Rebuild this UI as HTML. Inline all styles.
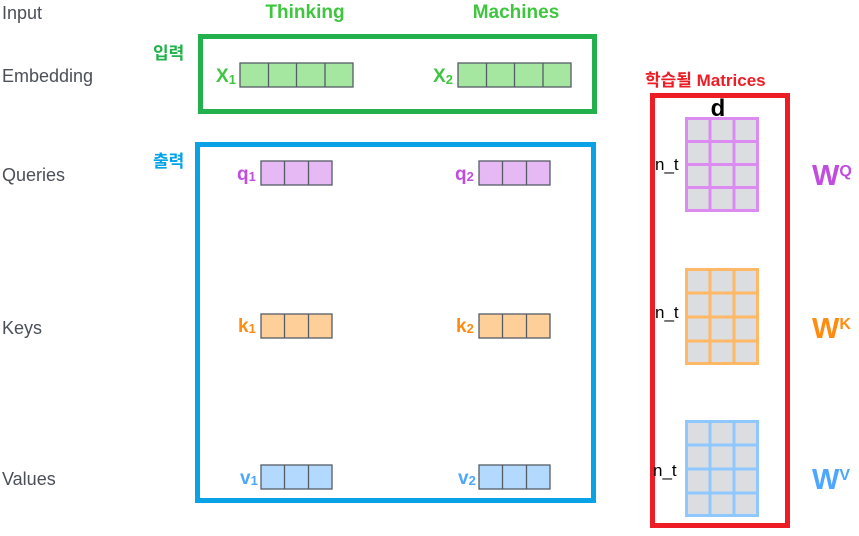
<!DOCTYPE html>
<html><head><meta charset="utf-8"><style>
html,body{margin:0;padding:0;background:#fff;}
svg{display:block;}
text{font-family:"Liberation Sans","Noto Sans CJK KR",sans-serif;}
.lbl{fill:#4a4f58;font-size:18px;}
.b{font-weight:bold;}
</style></head><body>
<svg width="859" height="536" viewBox="0 0 859 536" xmlns="http://www.w3.org/2000/svg">
<!-- left labels -->
<text class="lbl" x="2" y="19">Input</text>
<text class="lbl" x="2" y="82">Embedding</text>
<text class="lbl" x="2" y="181">Queries</text>
<text class="lbl" x="2" y="334">Keys</text>
<text class="lbl" x="2" y="485">Values</text>

<text class="b" x="305" y="18" fill="#3fc63f" font-size="19" text-anchor="middle">Thinking</text>
<text class="b" x="516" y="18" fill="#3fc63f" font-size="19" text-anchor="middle">Machines</text>

<text class="b" x="153" y="59" fill="#22b14c" font-size="17">입력</text>
<text class="b" x="153" y="167" fill="#00a2e8" font-size="17">출력</text>

<rect x="200.5" y="36.5" width="394" height="75" fill="none" stroke="#22b14c" stroke-width="5"/>
<rect x="197.5" y="144.5" width="396" height="356" fill="none" stroke="#0aa2e6" stroke-width="5"/>

<!-- X vectors -->
<g stroke="#555c66" stroke-width="1.3" fill="#a5e6a0">
<rect x="240" y="63" width="113" height="24"/><line x1="268.5" y1="63" x2="268.5" y2="87"/><line x1="296.5" y1="63" x2="296.5" y2="87"/><line x1="325" y1="63" x2="325" y2="87"/>
<rect x="458" y="63" width="113" height="24"/><line x1="486.5" y1="63" x2="486.5" y2="87"/><line x1="514.5" y1="63" x2="514.5" y2="87"/><line x1="543" y1="63" x2="543" y2="87"/>
</g>
<text class="b" x="216" y="82" fill="#3fc63f" font-size="19">X<tspan font-size="13" dy="2">1</tspan></text>
<text class="b" x="433" y="82" fill="#3fc63f" font-size="19">X<tspan font-size="13" dy="2">2</tspan></text>

<!-- q -->
<g stroke="#555c66" stroke-width="1.3" fill="#e6b8f4">
<rect x="261" y="161" width="71" height="24"/><line x1="284.5" y1="161" x2="284.5" y2="185"/><line x1="308.5" y1="161" x2="308.5" y2="185"/>
<rect x="479" y="161" width="71" height="24"/><line x1="502.5" y1="161" x2="502.5" y2="185"/><line x1="526.5" y1="161" x2="526.5" y2="185"/>
</g>
<text class="b" x="237" y="180" fill="#c04de0" font-size="19">q<tspan font-size="13" dy="1">1</tspan></text>
<text class="b" x="455" y="180" fill="#c04de0" font-size="19">q<tspan font-size="13" dy="1">2</tspan></text>

<!-- k -->
<g stroke="#555c66" stroke-width="1.3" fill="#ffcf99">
<rect x="261" y="314" width="71" height="24"/><line x1="284.5" y1="314" x2="284.5" y2="338"/><line x1="308.5" y1="314" x2="308.5" y2="338"/>
<rect x="479" y="314" width="71" height="24"/><line x1="502.5" y1="314" x2="502.5" y2="338"/><line x1="526.5" y1="314" x2="526.5" y2="338"/>
</g>
<text class="b" x="238" y="332" fill="#ff8c10" font-size="19">k<tspan font-size="13" dy="1">1</tspan></text>
<text class="b" x="456" y="332" fill="#ff8c10" font-size="19">k<tspan font-size="13" dy="1">2</tspan></text>

<!-- v -->
<g stroke="#555c66" stroke-width="1.3" fill="#b3d9ff">
<rect x="261" y="465" width="71" height="24"/><line x1="284.5" y1="465" x2="284.5" y2="489"/><line x1="308.5" y1="465" x2="308.5" y2="489"/>
<rect x="479" y="465" width="71" height="24"/><line x1="502.5" y1="465" x2="502.5" y2="489"/><line x1="526.5" y1="465" x2="526.5" y2="489"/>
</g>
<text class="b" x="240" y="484" fill="#4da6ff" font-size="19">v<tspan font-size="13" dy="1">1</tspan></text>
<text class="b" x="458" y="484" fill="#4da6ff" font-size="19">v<tspan font-size="13" dy="1">2</tspan></text>

<!-- matrices -->
<text class="b" x="645" y="86" fill="#ee1c24" font-size="17">학습될 Matrices</text>
<rect x="652.5" y="95.5" width="135" height="430" fill="none" stroke="#ee1c24" stroke-width="5"/>
<text x="718" y="116" font-size="24" fill="#000" text-anchor="middle" class="b">d</text>

<g stroke="#dc8cf0" stroke-width="3" fill="#dcdde0">
<rect x="686.5" y="118.5" width="71" height="92"/>
<line x1="710" y1="118" x2="710" y2="211"/><line x1="734" y1="118" x2="734" y2="211"/>
<line x1="686" y1="141.5" x2="758" y2="141.5"/><line x1="686" y1="164.5" x2="758" y2="164.5"/><line x1="686" y1="187.5" x2="758" y2="187.5"/>
</g>
<g stroke="#ffb866" stroke-width="3" fill="#dcdde0">
<rect x="686.5" y="269.5" width="71" height="94"/>
<line x1="710" y1="269" x2="710" y2="365"/><line x1="734" y1="269" x2="734" y2="365"/>
<line x1="686" y1="293" x2="758" y2="293"/><line x1="686" y1="317" x2="758" y2="317"/><line x1="686" y1="341" x2="758" y2="341"/>
</g>
<g stroke="#8ec8ff" stroke-width="3" fill="#dcdde0">
<rect x="686.5" y="421.5" width="71" height="94"/>
<line x1="710" y1="421" x2="710" y2="517"/><line x1="734" y1="421" x2="734" y2="517"/>
<line x1="686" y1="445" x2="758" y2="445"/><line x1="686" y1="469" x2="758" y2="469"/><line x1="686" y1="493" x2="758" y2="493"/>
</g>
<text x="655" y="170" font-size="17" fill="#000">n_t</text>
<text x="655" y="318" font-size="17" fill="#000">n_t</text>
<text x="653" y="476" font-size="17" fill="#000">n_t</text>

<text class="b" x="812" y="185" fill="#c04de0" font-size="29">W<tspan font-size="16" dy="-9">Q</tspan></text>
<text class="b" x="812" y="338" fill="#ff8c10" font-size="29">W<tspan font-size="16" dy="-9">K</tspan></text>
<text class="b" x="812" y="489" fill="#4da6ff" font-size="29">W<tspan font-size="16" dy="-9">V</tspan></text>
</svg>
</body></html>
